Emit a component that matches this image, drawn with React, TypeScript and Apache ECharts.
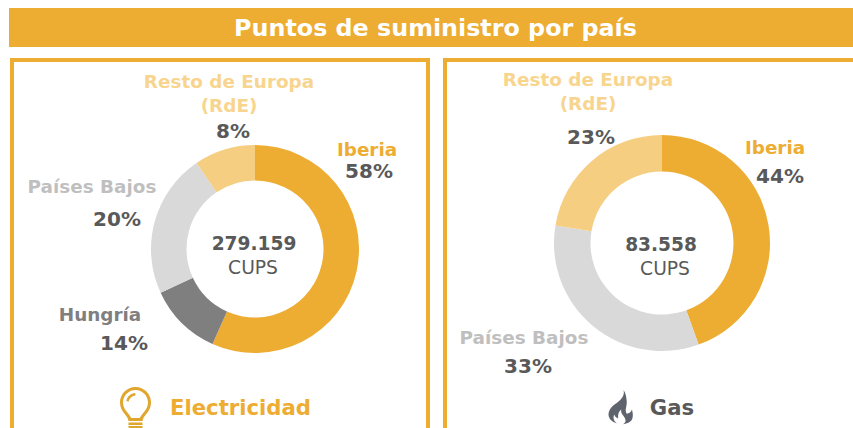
import React, { useEffect, useRef } from "react";
import * as echarts from "echarts";

const title = "Puntos de suministro por país";
const elecNames = ["Iberia", "Hungría", "Países Bajos", "Resto de Europa (RdE)"];
const elecValues = [56.7, 11.4, 22.4, 9.5];
const gasNames = ["Iberia", "Países Bajos", "Resto de Europa (RdE)"];
const gasValues = [44.5, 33.1, 22.4];
const elecTotal = "279.159";
const gasTotal = "83.558";
const unit = "CUPS";

const ORANGE = "#EDAC32";
const LIGHT = "#F5CE82";
const LGRAY = "#D9D9D9";
const MGRAY = "#7F7F7F";
const DARK = "#595959";
const FONT = "DejaVu Sans";
const LABEL = 18.4;
const PCT = 20;

const BULB =
  "M15.500 0C6.900 0 0 6.900 0 15.500c0 4.700 2 8.200 4.700 11.500 1.900 2.300 3.400 4.300 3.800 7h14c.4-2.700 1.900-4.700 3.800-7C29 23.700 31 20.200 31 15.500 31 6.900 24.100 0 15.500 0zM15.500 3c6.900 0 12.500 5.600 12.500 12.500 0 3.900-1.700 6.800-4 9.600-1.900 2.300-3.500 4.400-4.200 5.900h-8.600c-.7-1.500-2.300-3.600-4.200-5.900-2.300-2.800-4-5.700-4-9.600C3 8.600 8.600 3 15.500 3zM15.300 6c-4.600.3-8.200 3.600-9 8l2.400.4c.7-3.300 3.400-5.700 6.800-6zM8.500 35.500h14v2.500h-14zM8.500 39h14v2.600L15.500 45 8.500 41.600zM11.500 41 15.500 42.800 19.500 41z";
const FLAME =
  "M20 0c1.200 5.500-.5 9.500-4 13.500C11.500 18.500 3 22.500 1 31c-1.500 6.500 2 13 10.500 15.500-4-3.500-5.500-8-3.500-12.500 1 3 2.500 4.500 5 5.500-.5-6 .5-9 4-12.500-1.500 7 5.500 9.500 5.500 15.500 0 2-1 3.500-3 5 7-1.500 11-4 12-9 .8-3.800.2-7-.8-11.500-1.200 3.500-3.200 5.500-6.700 6-3-5.500.5-10.500 0-17C23.700 11 23 5 20 0z";

echarts.graphic.registerShape("bulbIcon", echarts.graphic.extendPath(BULB, {}));
echarts.graphic.registerShape("flameIcon", echarts.graphic.extendPath(FLAME, {}));

const txt = (s: string, x: number, y: number, size: number, fill: string, weight: string = "bold") => ({
  type: "text",
  x,
  y,
  style: { text: s, fontSize: size, fontWeight: weight, fontFamily: FONT, fill, align: "center", verticalAlign: "middle" },
});

const frame = (x: number, y: number, w: number, h: number) => ({
  type: "rect",
  shape: { x, y, width: w, height: h },
  style: { fill: "none", stroke: ORANGE, lineWidth: 4 },
});

const pie = (names: string[], values: number[], colors: string[], cx: number, cy: number, r0: number, r: number) => ({
  type: "pie",
  center: [cx, cy],
  radius: [r0, r],
  startAngle: 90,
  clockwise: true,
  silent: true,
  label: { show: false },
  labelLine: { show: false },
  data: names.map((name, i) => ({ name, value: values[i], itemStyle: { color: colors[i] } })),
});

export default function App() {
  const ref = useRef<HTMLDivElement>(null);
  useEffect(() => {
    const chart = echarts.init(ref.current!, undefined, { renderer: "svg" });
    chart.setOption({
      animation: false,
      backgroundColor: "#ffffff",
      series: [
        pie(elecNames, elecValues, [ORANGE, MGRAY, LGRAY, LIGHT], 255, 249, 68.5, 104),
        pie(gasNames, gasValues, [ORANGE, LGRAY, LIGHT], 662, 243, 71.5, 108),
      ],
      graphic: [
        { type: "rect", shape: { x: 9, y: 8, width: 844, height: 39 }, style: { fill: ORANGE } },
        txt(title, 435.5, 28, 23.8, "#ffffff"),
        frame(12, 60, 416, 380),
        frame(445, 60, 420, 380),
        txt("Resto de Europa", 229, 81, LABEL, "#F8D58E"),
        txt("(RdE)", 229, 105, LABEL, "#F8D58E"),
        txt("8%", 233, 131, PCT, DARK),
        txt("Iberia", 367, 149, LABEL, ORANGE),
        txt("58%", 369, 171, PCT, DARK),
        txt("Países Bajos", 92, 186, LABEL, "#BFBFBF"),
        txt("20%", 117, 219, PCT, DARK),
        txt("Hungría", 100, 314, LABEL, MGRAY),
        txt("14%", 124, 343, PCT, DARK),
        txt(elecTotal, 254, 243, 18.6, DARK),
        txt(unit, 253, 267, 18.7, DARK, "normal"),
        txt("Electricidad", 240.5, 407, 21.2, ORANGE),
        { type: "bulbIcon", x: 120, y: 387, style: { fill: "#E0A62E" } },
        txt("Resto de Europa", 588, 79, LABEL, "#F8D58E"),
        txt("(RdE)", 588, 103, LABEL, "#F8D58E"),
        txt("23%", 591, 137, PCT, DARK),
        txt("Iberia", 775, 147, LABEL, ORANGE),
        txt("44%", 780, 176, PCT, DARK),
        txt("Países Bajos", 524, 337, LABEL, "#BFBFBF"),
        txt("33%", 528, 366, PCT, DARK),
        txt(gasTotal, 661, 244, 18.6, DARK),
        txt(unit, 665, 268, 18.7, DARK, "normal"),
        txt("Gas", 672, 407, 21.2, DARK),
        { type: "flameIcon", x: 608, y: 390, scaleX: 0.78, scaleY: 0.72, style: { fill: "#5E636E" } },
      ],
    });
    return () => chart.dispose();
  }, []);
  return <div ref={ref} style={{ position: "absolute", left: 0, top: 0, width: 853, height: 428, overflow: "hidden" }} />;
}
